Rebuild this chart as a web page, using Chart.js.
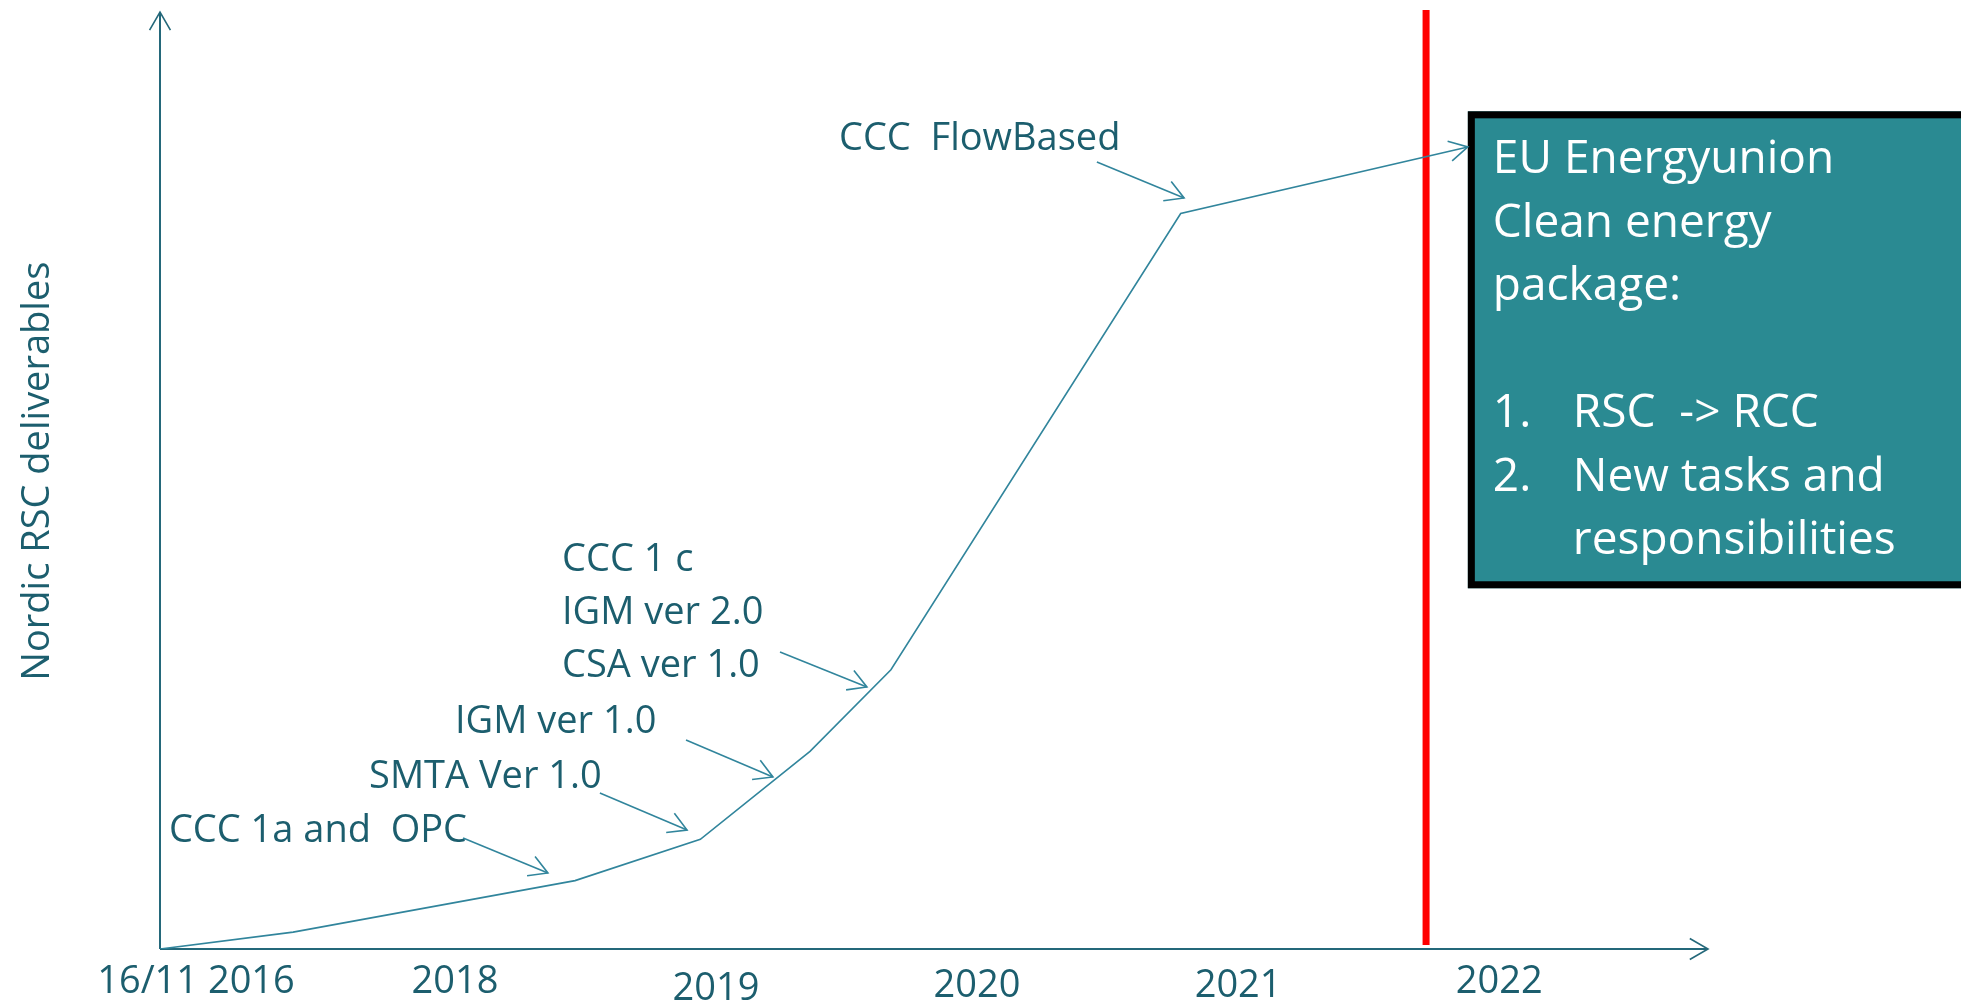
<!DOCTYPE html>
<html>
<head>
<meta charset="utf-8">
<title>Nordic RSC deliverables</title>
<script src="https://cdn.jsdelivr.net/npm/chart.js@4.4.1/dist/chart.umd.min.js"></script>
<style>
  html, body { margin: 0; padding: 0; background: #fff; overflow: hidden; }
  canvas { display: block; }
</style>
</head>
<body>
<canvas id="timeline" width="1961" height="1003"></canvas>
<script>
// growth of deliverables: x in decimal years, y in relative units (0-100)
const timeline = [2016.87, 2017.38, 2018.46, 2018.94, 2019.36, 2019.67, 2020.78, 2021.88];
const deliverables = [0, 1.8, 7.3, 11.7, 21.1, 29.8, 78.5, 85.6];

const tickYears = [2016.87, 2018, 2019, 2020, 2021, 2022];
const tickLabels = ['16/11 2016', '2018', '2019', '2020', '2021', '2022'];

// vertical marker for "now"
const nowYear = 2021.72;

// callouts: text anchor, arrow tail and arrow tip, all in data units
const callouts = [
  { lines: ['CCC 1a and  OPC'], at: [2016.904, 11.42], tail: [2018.031, 11.85], tip: [2018.356, 8.11] },
  { lines: ['SMTA Ver 1.0'], at: [2017.671, 17.18], tail: [2018.555, 16.65], tip: [2018.889, 12.70] },
  { lines: ['IGM ver 1.0'], at: [2018.000, 23.05], tail: [2018.885, 22.31], tip: [2019.218, 18.36] },
  { lines: ['CCC 1 c', 'IGM ver 2.0', 'CSA ver 1.0'], at: [2018.410, 40.34], tail: [2019.245, 31.70], tip: [2019.578, 27.96] },
  { lines: ['CCC  FlowBased'], at: [2019.471, 85.27], tail: [2020.459, 83.99], tip: [2020.793, 80.15] }
];

const boxLines = [
  ['', 'EU Energyunion'],
  ['', 'Clean energy'],
  ['', 'package:'],
  ['', ''],
  ['1.', 'RSC  -> RCC'],
  ['2.', 'New tasks and'],
  ['', 'responsibilities']
];
const boxTop = 89.4, boxBottom = 38.5;

const TEXT = '#1c5e6e';
const AXIS = '#24687a';
const LINE = '#31859c';
const FONT = '38px "Open Sans"';

function arrowHead(ctx, x0, y0, x1, y1, len, spread) {
  const a = Math.atan2(y1 - y0, x1 - x0);
  ctx.beginPath();
  ctx.moveTo(x1 - len * Math.cos(a - spread), y1 - len * Math.sin(a - spread));
  ctx.lineTo(x1, y1);
  ctx.lineTo(x1 - len * Math.cos(a + spread), y1 - len * Math.sin(a + spread));
  ctx.stroke();
}

const decor = {
  id: 'decor',
  beforeDatasetsDraw(chart) {
    const { ctx, chartArea: a, scales: { x, y } } = chart;
    ctx.save();
    ctx.lineCap = 'butt';

    // red "now" line
    const rx = x.getPixelForValue(nowYear);
    ctx.strokeStyle = '#ff0000';
    ctx.lineWidth = 7;
    ctx.beginPath();
    ctx.moveTo(rx, a.top - 2);
    ctx.lineTo(rx, a.bottom - 4);
    ctx.stroke();

    // axes with open arrow heads
    const ox = x.getPixelForValue(x.min);
    const oy = y.getPixelForValue(0);
    ctx.strokeStyle = AXIS;
    ctx.lineWidth = 2;
    ctx.beginPath();
    ctx.moveTo(ox, oy); ctx.lineTo(ox, a.top);
    ctx.moveTo(ox, oy); ctx.lineTo(a.right, oy);
    ctx.stroke();
    ctx.lineWidth = 1.6;
    arrowHead(ctx, ox, oy, ox, a.top, 21, 0.52);
    arrowHead(ctx, ox, oy, a.right, oy, 21, 0.52);
    ctx.restore();
  },
  afterDatasetsDraw(chart) {
    const { ctx, chartArea: a, scales: { x, y } } = chart;
    const pts = chart.getDatasetMeta(0).data;
    ctx.save();

    // package box at the end of the curve
    const bx = x.getPixelForValue(timeline[timeline.length - 1]);
    const by = y.getPixelForValue(boxTop);
    const bb = y.getPixelForValue(boxBottom);
    ctx.fillStyle = '#2a8a92';
    ctx.fillRect(bx, by, chart.width, bb - by);
    ctx.strokeStyle = '#000';
    ctx.lineWidth = 7;
    ctx.strokeRect(bx + 3.5, by + 3.5, chart.width, bb - by - 7);
    ctx.fillStyle = '#fff';
    ctx.font = '46px "Open Sans"';
    ctx.textAlign = 'left';
    ctx.textBaseline = 'alphabetic';
    boxLines.forEach(([num, txt], i) => {
      const ly = by + 62 + i * 63.5;
      if (num) {
        ctx.fillText(num, bx + 25, ly);
        ctx.fillText(txt, bx + 105, ly);
      } else {
        ctx.fillText(txt, bx + (i > 3 ? 105 : 25), ly);
      }
    });

    // arrow head on the end of the curve
    const p1 = pts[pts.length - 2], p2 = pts[pts.length - 1];
    ctx.strokeStyle = LINE;
    ctx.lineWidth = 1.6;
    arrowHead(ctx, p1.x, p1.y, p2.x, p2.y, 21, 0.5);

    // callouts
    ctx.font = FONT;
    callouts.forEach(c => {
      ctx.fillStyle = TEXT;
      const tx = x.getPixelForValue(c.at[0]);
      const ty = y.getPixelForValue(c.at[1]);
      c.lines.forEach((l, i) => ctx.fillText(l, tx, ty + i * 53));
      const x0 = x.getPixelForValue(c.tail[0]), y0 = y.getPixelForValue(c.tail[1]);
      const x1 = x.getPixelForValue(c.tip[0]), y1 = y.getPixelForValue(c.tip[1]);
      ctx.strokeStyle = LINE;
      ctx.lineWidth = 1.6;
      ctx.beginPath();
      ctx.moveTo(x0, y0);
      ctx.lineTo(x1, y1);
      ctx.stroke();
      arrowHead(ctx, x0, y0, x1, y1, 21, 0.52);
    });

    // x tick labels
    const drop = { '2019': 7, '2020': 4, '2021': 4 };
    ctx.fillStyle = TEXT;
    ctx.textAlign = 'center';
    tickYears.forEach((v, i) => {
      const px = x.getPixelForValue(v) + (i === 0 ? 36 : 0);
      ctx.fillText(tickLabels[i], px, a.bottom + 44 + (drop[tickLabels[i]] || 0));
    });

    // y axis title
    ctx.translate(49, y.getPixelForValue(51));
    ctx.rotate(-Math.PI / 2);
    ctx.fillText('Nordic RSC deliverables', 0, 0);
    ctx.restore();
  }
};

new Chart(document.getElementById('timeline'), {
  type: 'line',
  data: {
    datasets: [{
      label: 'Nordic RSC deliverables',
      data: timeline.map((t, i) => ({ x: t, y: deliverables[i] })),
      borderColor: LINE,
      borderWidth: 1.6,
      pointRadius: 0,
      tension: 0,
      fill: false
    }]
  },
  options: {
    responsive: false,
    animation: false,
    layout: { padding: { left: 160, right: 253, top: 12, bottom: 54 } },
    plugins: { legend: { display: false }, tooltip: { enabled: false } },
    scales: {
      x: { type: 'linear', min: 2016.87, max: 2022.80, display: false },
      y: { min: 0, max: 100, display: false }
    }
  },
  plugins: [decor]
});
</script>
</body>
</html>
